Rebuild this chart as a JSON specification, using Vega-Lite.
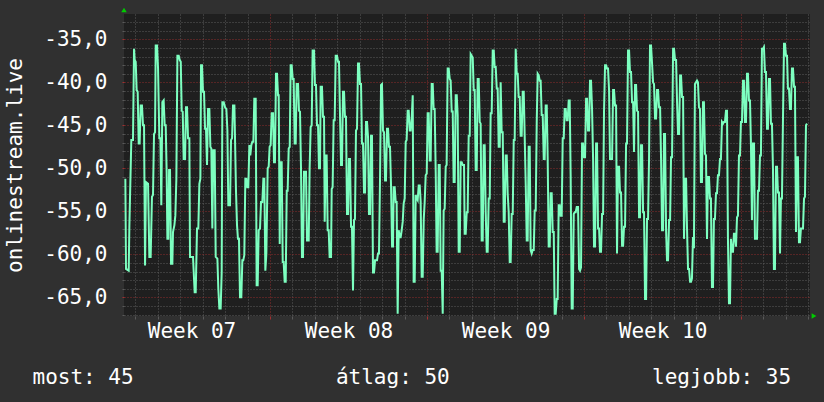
{
  "$schema": "https://vega.github.io/schema/vega-lite/v6.json",
  "width": 686,
  "height": 302,
  "autosize": {"type": "none"},
  "padding": {"left": 124, "top": 14, "right": 14, "bottom": 86},
  "background": "#303030",
  "config": {
    "view": {"fill": "#1f1f1f", "stroke": null},
    "font": "DejaVu Sans Mono",
    "axis": {"labelFont": "DejaVu Sans Mono", "titleFont": "DejaVu Sans Mono", "labelColor": "#ffffff", "titleColor": "#ffffff", "titleFontWeight": "normal", "domain": false, "labelOverlap": false, "labelFlush": false, "labelBound": false}
  },
  "resolve": {"axis": {"x": "independent", "y": "independent"}},
  "layer": [
    {
      "data": {"values": [
        {"h":13.2,"v":-51.2},{"h":13.9,"v":-61.7},{"h":16.8,"v":-61.9},{"h":17.5,"v":-56.8},{"h":19.6,"v":-46.7},{"h":21.4,"v":-46.7},{"h":22.5,"v":-36.1},{"h":23.2,"v":-37.4},{"h":24.3,"v":-37.6},{"h":25.3,"v":-40.9},{"h":26.4,"v":-41.1},{"h":27.5,"v":-47.1},{"h":28.5,"v":-47.1},{"h":29.6,"v":-42.7},{"h":31.0,"v":-42.7},{"h":32.1,"v":-45.0},{"h":33.2,"v":-45.0},{"h":34.3,"v":-61.3},{"h":35.3,"v":-51.6},{"h":37.5,"v":-51.8},{"h":38.9,"v":-60.3},{"h":40.3,"v":-60.3},{"h":41.7,"v":-53.3},{"h":42.8,"v":-53.1},{"h":43.9,"v":-46.0},{"h":45.0,"v":-45.8},{"h":45.7,"v":-35.7},{"h":47.1,"v":-35.7},{"h":48.2,"v":-38.4},{"h":49.6,"v":-46.5},{"h":50.7,"v":-46.5},{"h":51.7,"v":-54.3},{"h":52.8,"v":-42.3},{"h":54.2,"v":-42.1},{"h":55.3,"v":-45.0},{"h":56.4,"v":-45.0},{"h":57.4,"v":-50.4},{"h":58.2,"v":-58.2},{"h":59.2,"v":-58.2},{"h":60.0,"v":-50.2},{"h":61.0,"v":-50.2},{"h":62.1,"v":-61.1},{"h":63.5,"v":-61.1},{"h":64.2,"v":-57.4},{"h":65.7,"v":-56.6},{"h":66.7,"v":-55.5},{"h":67.8,"v":-51.2},{"h":68.9,"v":-36.9},{"h":70.3,"v":-36.9},{"h":71.4,"v":-37.4},{"h":72.5,"v":-37.6},{"h":73.5,"v":-43.3},{"h":74.6,"v":-43.4},{"h":75.6,"v":-48.9},{"h":77.1,"v":-48.9},{"h":78.1,"v":-42.9},{"h":79.2,"v":-42.9},{"h":80.3,"v":-46.5},{"h":81.7,"v":-46.5},{"h":82.4,"v":-60.3},{"h":85.6,"v":-60.3},{"h":87.4,"v":-64.4},{"h":88.5,"v":-64.4},{"h":89.9,"v":-57.0},{"h":91.3,"v":-57.0},{"h":92.4,"v":-51.8},{"h":93.5,"v":-51.2},{"h":94.2,"v":-38.0},{"h":95.2,"v":-38.0},{"h":96.3,"v":-41.1},{"h":97.4,"v":-41.1},{"h":98.5,"v":-45.4},{"h":99.5,"v":-45.4},{"h":100.6,"v":-49.6},{"h":101.7,"v":-43.1},{"h":103.1,"v":-43.1},{"h":104.2,"v":-47.5},{"h":105.2,"v":-47.7},{"h":106.3,"v":-57.0},{"h":107.4,"v":-47.9},{"h":108.8,"v":-47.9},{"h":109.9,"v":-60.3},{"h":111.7,"v":-60.5},{"h":112.7,"v":-64.0},{"h":113.8,"v":-66.3},{"h":115.2,"v":-66.3},{"h":116.3,"v":-62.1},{"h":117.0,"v":-42.3},{"h":118.5,"v":-42.3},{"h":119.9,"v":-42.9},{"h":121.3,"v":-43.1},{"h":122.4,"v":-45.6},{"h":123.4,"v":-54.3},{"h":125.2,"v":-54.3},{"h":126.3,"v":-46.7},{"h":127.4,"v":-46.5},{"h":128.4,"v":-42.7},{"h":129.9,"v":-42.7},
        {"h":131.6,"v":-52.6},{"h":132.7,"v":-56.6},{"h":133.7,"v":-58.2},{"h":134.8,"v":-58.2},{"h":135.9,"v":-65.0},{"h":137.3,"v":-65.0},{"h":138.4,"v":-60.7},{"h":139.4,"v":-60.7},{"h":140.5,"v":-60.1},{"h":141.6,"v":-51.2},{"h":142.7,"v":-51.2},{"h":143.7,"v":-52.2},{"h":144.8,"v":-52.2},{"h":145.9,"v":-47.3},{"h":146.9,"v":-48.5},{"h":148.0,"v":-47.3},{"h":149.1,"v":-46.9},{"h":150.2,"v":-46.9},{"h":151.2,"v":-41.9},{"h":152.7,"v":-41.9},{"h":153.7,"v":-63.6},{"h":154.8,"v":-63.6},{"h":155.9,"v":-57.2},{"h":157.3,"v":-57.0},{"h":158.4,"v":-53.9},{"h":159.8,"v":-53.9},{"h":160.9,"v":-51.2},{"h":161.9,"v":-51.2},{"h":163.0,"v":-61.9},{"h":164.1,"v":-59.9},{"h":165.5,"v":-50.0},{"h":166.6,"v":-49.8},{"h":167.6,"v":-47.5},{"h":168.7,"v":-47.3},{"h":169.8,"v":-43.6},{"h":171.2,"v":-43.6},{"h":172.3,"v":-49.3},{"h":173.3,"v":-49.3},{"h":174.4,"v":-39.0},{"h":175.5,"v":-39.0},{"h":176.6,"v":-41.5},{"h":177.3,"v":-41.5},{"h":178.4,"v":-58.8},{"h":179.1,"v":-49.3},{"h":180.5,"v":-49.3},{"h":181.6,"v":-60.9},{"h":182.6,"v":-60.9},{"h":183.7,"v":-63.2},{"h":184.8,"v":-63.2},{"h":185.9,"v":-52.6},{"h":186.9,"v":-52.6},{"h":188.0,"v":-47.7},{"h":189.1,"v":-47.5},{"h":190.1,"v":-38.0},{"h":191.2,"v":-38.0},{"h":192.3,"v":-39.6},{"h":193.3,"v":-39.6},{"h":194.4,"v":-47.1},{"h":195.5,"v":-47.1},{"h":196.5,"v":-40.2},{"h":198.0,"v":-40.2},{"h":199.0,"v":-43.3},{"h":200.1,"v":-43.4},{"h":201.2,"v":-50.2},{"h":202.2,"v":-60.3},{"h":203.3,"v":-60.3},{"h":204.4,"v":-50.4},{"h":206.5,"v":-50.4},{"h":207.6,"v":-58.4},{"h":209.4,"v":-58.4},{"h":210.4,"v":-50.0},{"h":211.5,"v":-45.2},{"h":212.6,"v":-45.0},{"h":213.6,"v":-36.3},{"h":215.1,"v":-36.3},{"h":216.1,"v":-40.3},{"h":217.2,"v":-40.3},{"h":218.3,"v":-45.0},{"h":219.4,"v":-45.0},{"h":220.4,"v":-50.0},{"h":221.5,"v":-50.0},{"h":222.2,"v":-40.5},{"h":223.6,"v":-40.5},{"h":224.7,"v":-44.0},{"h":225.8,"v":-44.0},{"h":226.5,"v":-56.2},{"h":227.6,"v":-48.5},{"h":228.6,"v":-48.5},{"h":229.7,"v":-57.2},{"h":230.8,"v":-57.2},{"h":231.8,"v":-60.3},{"h":233.3,"v":-60.3},{"h":234.0,"v":-52.4},{"h":235.0,"v":-52.2},{"h":236.1,"v":-44.4},{"h":237.2,"v":-44.4},{"h":238.3,"v":-36.9},{"h":239.7,"v":-36.9},{"h":240.8,"v":-37.6},{"h":241.8,"v":-37.6},{"h":242.9,"v":-43.8},{"h":244.0,"v":-49.6},{"h":245.0,"v":-49.6},{"h":246.1,"v":-41.1},{"h":247.2,"v":-41.1},{"h":248.2,"v":-44.0},{"h":249.3,"v":-44.0},{"h":250.4,"v":-55.3},{"h":251.5,"v":-55.3},{"h":252.5,"v":-48.9},
        {"h":253.6,"v":-48.9},{"h":254.7,"v":-56.8},{"h":255.7,"v":-56.8},{"h":256.8,"v":-64.2},{"h":257.9,"v":-56.0},{"h":258.9,"v":-55.9},{"h":260.0,"v":-45.6},{"h":261.1,"v":-45.4},{"h":262.2,"v":-37.8},{"h":263.2,"v":-37.8},{"h":264.3,"v":-40.2},{"h":265.4,"v":-40.2},{"h":266.4,"v":-47.1},{"h":267.5,"v":-47.1},{"h":268.6,"v":-52.8},{"h":269.7,"v":-52.8},{"h":270.7,"v":-44.6},{"h":271.8,"v":-44.6},{"h":272.9,"v":-46.4},{"h":273.9,"v":-55.3},{"h":275.0,"v":-55.3},{"h":276.1,"v":-46.2},{"h":277.1,"v":-46.2},{"h":278.2,"v":-62.1},{"h":279.3,"v":-62.1},{"h":280.4,"v":-60.7},{"h":282.5,"v":-60.7},{"h":283.6,"v":-59.9},{"h":284.6,"v":-59.9},{"h":285.7,"v":-51.4},{"h":286.8,"v":-40.3},{"h":287.8,"v":-40.2},{"h":288.9,"v":-45.6},{"h":290.0,"v":-45.8},{"h":291.1,"v":-51.4},{"h":292.1,"v":-51.4},{"h":293.2,"v":-45.4},{"h":294.3,"v":-45.4},{"h":295.3,"v":-47.5},{"h":296.4,"v":-47.5},{"h":297.5,"v":-52.0},{"h":298.6,"v":-59.1},{"h":299.6,"v":-59.1},{"h":300.3,"v":-52.2},{"h":301.4,"v":-52.2},{"h":302.5,"v":-53.9},{"h":303.5,"v":-53.9},{"h":304.6,"v":-66.9},{"h":305.7,"v":-57.2},{"h":306.8,"v":-58.0},{"h":307.8,"v":-58.0},{"h":308.9,"v":-57.2},{"h":310.0,"v":-56.2},{"h":311.0,"v":-54.1},{"h":312.1,"v":-53.5},{"h":313.2,"v":-46.9},{"h":314.2,"v":-46.7},{"h":315.3,"v":-43.3},{"h":316.4,"v":-43.3},{"h":317.5,"v":-45.6},{"h":318.5,"v":-45.6},{"h":319.6,"v":-44.2},{"h":320.7,"v":-41.5},{"h":321.7,"v":-63.2},{"h":322.8,"v":-63.2},{"h":323.9,"v":-53.1},{"h":325.0,"v":-53.5},{"h":326.0,"v":-53.7},{"h":327.1,"v":-52.0},{"h":328.2,"v":-52.0},{"h":329.2,"v":-53.9},{"h":330.3,"v":-62.6},{"h":331.4,"v":-62.6},{"h":332.5,"v":-55.9},{"h":333.5,"v":-53.9},{"h":334.6,"v":-50.8},{"h":335.7,"v":-50.6},{"h":336.7,"v":-43.6},{"h":337.8,"v":-43.6},{"h":338.9,"v":-49.1},{"h":339.9,"v":-49.1},{"h":341.0,"v":-40.2},{"h":342.1,"v":-40.2},{"h":343.1,"v":-43.1},{"h":344.2,"v":-43.1},{"h":345.3,"v":-50.4},{"h":346.3,"v":-59.7},{"h":347.4,"v":-59.7},{"h":348.5,"v":-49.6},{"h":349.6,"v":-49.6},{"h":350.6,"v":-61.9},{"h":351.7,"v":-61.9},{"h":352.8,"v":-66.9},{"h":353.8,"v":-54.9},{"h":354.9,"v":-54.7},{"h":356.0,"v":-49.8},{"h":357.0,"v":-49.6},{"h":358.1,"v":-38.4},{"h":359.2,"v":-38.4},{"h":360.3,"v":-39.6},{"h":361.3,"v":-39.8},{"h":362.4,"v":-43.4},{"h":363.5,"v":-43.4},{"h":364.5,"v":-51.6},{"h":365.6,"v":-51.6},{"h":366.7,"v":-41.5},{"h":367.8,"v":-41.5},{"h":368.8,"v":-43.8},{"h":369.9,"v":-59.7},{"h":371.0,"v":-59.7},{"h":372.0,"v":-49.3},{"h":373.1,"v":-49.3},{"h":374.2,"v":-49.6},
        {"h":375.6,"v":-49.6},{"h":376.3,"v":-57.6},{"h":377.4,"v":-57.6},{"h":378.5,"v":-55.1},{"h":379.5,"v":-55.1},{"h":380.6,"v":-46.2},{"h":381.7,"v":-46.2},{"h":382.7,"v":-36.7},{"h":383.8,"v":-36.9},{"h":384.9,"v":-37.1},{"h":386.0,"v":-40.9},{"h":387.0,"v":-40.9},{"h":388.1,"v":-50.2},{"h":389.2,"v":-50.2},{"h":390.2,"v":-39.6},{"h":391.3,"v":-39.6},{"h":392.4,"v":-44.6},{"h":393.4,"v":-44.8},{"h":394.5,"v":-58.4},{"h":395.6,"v":-58.4},{"h":396.6,"v":-47.3},{"h":397.7,"v":-47.3},{"h":398.8,"v":-55.1},{"h":399.9,"v":-59.7},{"h":400.9,"v":-59.7},{"h":402.0,"v":-53.5},{"h":403.1,"v":-53.5},{"h":404.1,"v":-43.6},{"h":405.2,"v":-43.6},{"h":406.3,"v":-36.3},{"h":407.4,"v":-36.3},{"h":408.4,"v":-38.2},{"h":409.5,"v":-38.2},{"h":410.6,"v":-40.7},{"h":411.6,"v":-40.7},{"h":412.7,"v":-47.5},{"h":413.8,"v":-47.5},{"h":414.8,"v":-40.0},{"h":415.9,"v":-45.8},{"h":417.0,"v":-45.8},{"h":418.1,"v":-56.2},{"h":419.1,"v":-56.2},{"h":420.2,"v":-48.5},{"h":421.3,"v":-48.5},{"h":422.3,"v":-52.9},{"h":423.4,"v":-55.1},{"h":424.5,"v":-60.9},{"h":425.5,"v":-60.9},{"h":426.6,"v":-55.3},{"h":427.7,"v":-55.3},{"h":428.8,"v":-46.7},{"h":429.8,"v":-46.7},{"h":430.9,"v":-36.1},{"h":432.0,"v":-39.0},{"h":433.0,"v":-39.0},{"h":434.1,"v":-41.7},{"h":435.2,"v":-41.7},{"h":436.2,"v":-46.2},{"h":437.3,"v":-46.2},{"h":438.4,"v":-41.1},{"h":439.5,"v":-41.1},{"h":440.5,"v":-46.2},{"h":441.6,"v":-51.8},{"h":442.7,"v":-58.4},{"h":443.7,"v":-58.4},{"h":444.8,"v":-47.5},{"h":445.9,"v":-47.5},{"h":446.9,"v":-59.5},{"h":448.0,"v":-59.9},{"h":449.1,"v":-59.5},{"h":450.2,"v":-59.5},{"h":451.2,"v":-54.9},{"h":452.3,"v":-54.9},{"h":453.4,"v":-44.6},{"h":454.4,"v":-39.0},{"h":455.5,"v":-39.2},{"h":456.6,"v":-39.8},{"h":457.6,"v":-39.8},{"h":458.7,"v":-43.8},{"h":459.8,"v":-43.8},{"h":460.9,"v":-48.9},{"h":461.9,"v":-48.9},{"h":463.0,"v":-42.7},{"h":464.1,"v":-42.7},{"h":465.1,"v":-48.7},{"h":466.2,"v":-59.1},{"h":467.3,"v":-59.1},{"h":468.3,"v":-52.9},{"h":469.4,"v":-52.9},{"h":470.5,"v":-57.4},{"h":471.6,"v":-57.4},{"h":472.6,"v":-66.9},{"h":473.7,"v":-66.9},{"h":474.8,"v":-65.2},{"h":475.8,"v":-65.2},{"h":476.9,"v":-54.3},{"h":478.0,"v":-54.3},{"h":479.0,"v":-55.5},{"h":480.1,"v":-55.5},{"h":481.2,"v":-46.5},{"h":482.3,"v":-46.5},{"h":483.3,"v":-43.1},{"h":484.4,"v":-43.1},{"h":485.5,"v":-44.4},{"h":486.5,"v":-44.4},{"h":487.6,"v":-42.1},{"h":488.7,"v":-42.1},{"h":489.7,"v":-50.8},{"h":490.8,"v":-66.3},{"h":491.9,"v":-66.3},{"h":493.0,"v":-55.3},{"h":494.0,"v":-55.1},{"h":495.1,"v":-55.1},{"h":496.2,"v":-54.5},
        {"h":497.6,"v":-54.5},{"h":498.7,"v":-61.7},{"h":499.7,"v":-61.9},{"h":500.8,"v":-61.5},{"h":501.9,"v":-47.1},{"h":502.9,"v":-47.1},{"h":504.0,"v":-48.7},{"h":505.1,"v":-48.7},{"h":506.2,"v":-41.9},{"h":507.2,"v":-41.9},{"h":508.3,"v":-45.6},{"h":509.4,"v":-45.6},{"h":510.4,"v":-39.8},{"h":511.5,"v":-39.8},{"h":512.6,"v":-43.1},{"h":513.7,"v":-48.9},{"h":514.7,"v":-59.1},{"h":515.8,"v":-59.1},{"h":516.9,"v":-47.1},{"h":517.9,"v":-47.1},{"h":519.0,"v":-57.0},{"h":520.1,"v":-57.0},{"h":521.1,"v":-59.7},{"h":522.2,"v":-59.7},{"h":523.3,"v":-55.3},{"h":524.4,"v":-55.3},{"h":525.4,"v":-43.4},{"h":526.5,"v":-38.0},{"h":527.6,"v":-38.0},{"h":528.6,"v":-38.4},{"h":529.7,"v":-38.4},{"h":530.8,"v":-40.9},{"h":531.8,"v":-48.9},{"h":534.0,"v":-48.9},{"h":535.1,"v":-40.9},{"h":536.1,"v":-40.9},{"h":537.2,"v":-42.7},{"h":538.3,"v":-42.7},{"h":539.3,"v":-59.9},{"h":540.4,"v":-49.8},{"h":541.5,"v":-49.8},{"h":542.5,"v":-52.8},{"h":543.6,"v":-52.8},{"h":544.7,"v":-59.0},{"h":545.8,"v":-59.0},{"h":546.8,"v":-56.8},{"h":547.9,"v":-56.8},{"h":549.0,"v":-47.1},{"h":550.0,"v":-47.1},{"h":551.1,"v":-36.3},{"h":552.2,"v":-36.3},{"h":553.2,"v":-38.8},{"h":554.3,"v":-38.8},{"h":555.4,"v":-42.3},{"h":556.5,"v":-42.3},{"h":557.5,"v":-48.1},{"h":558.6,"v":-40.3},{"h":559.7,"v":-40.3},{"h":560.7,"v":-43.3},{"h":561.8,"v":-43.4},{"h":562.9,"v":-55.7},{"h":563.9,"v":-55.7},{"h":565.0,"v":-47.3},{"h":566.1,"v":-47.3},{"h":567.2,"v":-55.1},{"h":568.2,"v":-55.1},{"h":569.3,"v":-65.2},{"h":570.4,"v":-65.2},{"h":571.4,"v":-55.9},{"h":572.5,"v":-55.9},{"h":573.6,"v":-48.7},{"h":574.6,"v":-35.7},{"h":575.7,"v":-35.7},{"h":576.8,"v":-37.8},{"h":577.9,"v":-40.0},{"h":578.9,"v":-40.2},{"h":580.0,"v":-44.2},{"h":581.1,"v":-44.2},{"h":582.1,"v":-40.9},{"h":583.2,"v":-40.9},{"h":584.3,"v":-42.9},{"h":585.4,"v":-42.9},{"h":586.4,"v":-48.7},{"h":587.5,"v":-57.2},{"h":588.6,"v":-57.2},{"h":589.6,"v":-46.0},{"h":590.7,"v":-46.0},{"h":591.8,"v":-57.2},{"h":592.8,"v":-60.7},{"h":593.9,"v":-60.7},{"h":595.0,"v":-56.0},{"h":596.1,"v":-56.0},{"h":597.1,"v":-48.7},{"h":598.2,"v":-48.7},{"h":599.3,"v":-36.1},{"h":600.3,"v":-36.1},{"h":601.4,"v":-37.4},{"h":602.5,"v":-37.4},{"h":603.5,"v":-42.1},{"h":604.6,"v":-46.0},{"h":605.7,"v":-46.0},{"h":606.8,"v":-39.2},{"h":607.8,"v":-39.2},{"h":608.9,"v":-41.7},{"h":610.0,"v":-41.7},{"h":611.0,"v":-58.2},{"h":612.1,"v":-51.2},{"h":613.2,"v":-51.2},{"h":614.2,"v":-57.0},{"h":615.3,"v":-61.7},{"h":616.4,"v":-61.7},{"h":617.5,"v":-63.2},{"h":618.5,"v":-63.2},
        {"h":619.5,"v":-62.8},{"h":620.6,"v":-58.0},{"h":621.6,"v":-59.3},{"h":622.7,"v":-40.2},{"h":623.8,"v":-40.0},{"h":624.9,"v":-39.8},{"h":625.9,"v":-40.0},{"h":627.0,"v":-42.9},{"h":628.1,"v":-43.1},{"h":629.1,"v":-51.6},{"h":630.2,"v":-51.6},{"h":631.3,"v":-42.3},{"h":632.3,"v":-42.3},{"h":633.4,"v":-48.3},{"h":634.5,"v":-48.5},{"h":635.6,"v":-58.2},{"h":636.6,"v":-51.0},{"h":637.7,"v":-51.0},{"h":638.8,"v":-53.5},{"h":639.8,"v":-53.5},{"h":640.9,"v":-63.8},{"h":642.0,"v":-63.8},{"h":643.0,"v":-55.9},{"h":644.1,"v":-55.9},{"h":645.2,"v":-52.9},{"h":646.3,"v":-52.9},{"h":647.3,"v":-50.8},{"h":648.4,"v":-50.8},{"h":649.5,"v":-48.9},{"h":650.5,"v":-48.9},{"h":651.6,"v":-44.6},{"h":652.7,"v":-44.8},{"h":653.7,"v":-44.6},{"h":654.8,"v":-44.6},{"h":655.9,"v":-43.3},{"h":657.0,"v":-43.3},{"h":658.0,"v":-58.2},{"h":659.1,"v":-65.7},{"h":660.2,"v":-65.7},{"h":661.2,"v":-58.2},{"h":662.3,"v":-59.7},{"h":663.4,"v":-59.7},{"h":664.4,"v":-57.6},{"h":665.5,"v":-57.6},{"h":666.6,"v":-59.1},{"h":667.7,"v":-55.7},{"h":668.7,"v":-55.5},{"h":669.8,"v":-48.5},{"h":670.9,"v":-48.5},{"h":671.9,"v":-44.6},{"h":673.0,"v":-44.6},{"h":674.1,"v":-39.8},{"h":675.1,"v":-39.8},{"h":676.2,"v":-44.6},{"h":677.3,"v":-44.6},{"h":678.4,"v":-39.0},{"h":679.4,"v":-39.0},{"h":680.5,"v":-42.1},{"h":681.6,"v":-42.1},{"h":682.6,"v":-47.1},{"h":683.7,"v":-56.0},{"h":684.8,"v":-47.1},{"h":685.9,"v":-47.1},{"h":686.9,"v":-58.2},{"h":689.1,"v":-58.2},{"h":690.1,"v":-52.6},{"h":691.2,"v":-52.6},{"h":692.3,"v":-48.5},{"h":693.3,"v":-48.5},{"h":694.4,"v":-36.1},{"h":695.5,"v":-36.1},{"h":696.5,"v":-35.9},{"h":697.6,"v":-38.8},{"h":698.7,"v":-38.8},{"h":699.8,"v":-45.4},{"h":700.8,"v":-45.4},{"h":701.9,"v":-39.6},{"h":703.0,"v":-39.6},{"h":704.0,"v":-44.8},{"h":705.1,"v":-44.8},{"h":706.2,"v":-50.2},{"h":707.2,"v":-61.7},{"h":708.3,"v":-61.7},{"h":709.4,"v":-49.8},{"h":710.5,"v":-49.8},{"h":711.5,"v":-52.8},{"h":712.6,"v":-52.8},{"h":713.7,"v":-59.9},{"h":714.7,"v":-53.5},{"h":715.8,"v":-53.5},{"h":716.9,"v":-44.2},{"h":718.0,"v":-35.5},{"h":719.0,"v":-35.5},{"h":720.1,"v":-36.9},{"h":721.2,"v":-36.9},{"h":722.2,"v":-40.7},{"h":723.3,"v":-40.7},{"h":724.4,"v":-43.1},{"h":725.4,"v":-43.1},{"h":726.5,"v":-38.4},{"h":727.6,"v":-38.4},{"h":728.7,"v":-40.5},{"h":729.7,"v":-40.5},{"h":730.8,"v":-57.4},{"h":731.9,"v":-48.7},{"h":732.9,"v":-48.7},{"h":734.0,"v":-58.6},{"h":735.1,"v":-58.6},{"h":736.1,"v":-57.0},{"h":738.3,"v":-57.0},{"h":739.4,"v":-53.5},{"h":740.4,"v":-53.3},{"h":741.5,"v":-45.0},{"h":742.6,"v":-44.8}
      ]},
      "mark": {"type": "line", "color": "#7dffc0", "strokeWidth": 2, "clip": true},
      "encoding": {
        "x": {
          "field": "h", "type": "quantitative",
          "scale": {"domain": [11.77, 745.8], "nice": false, "zero": false},
          "axis": {
            "orient": "bottom",
            "values": [24,48,72,96,120,144,192,216,240,264,288,312,360,384,408,432,456,480,528,552,576,600,624,648,696,720,744],
            "labels": false, "title": null,
            "ticks": true, "tickSize": 3, "tickColor": "#5a5a5a",
            "grid": true, "gridColor": "#5c5c5c", "gridDash": [1, 2], "gridWidth": 1
          }
        },
        "y": {
          "field": "v", "type": "quantitative",
          "scale": {"domain": [-67.17, -32.05], "nice": false, "zero": false},
          "axis": {
            "orient": "left",
            "values": [-67,-66,-64,-63,-62,-61,-59,-58,-57,-56,-54,-53,-52,-51,-49,-48,-47,-46,-44,-43,-42,-41,-39,-38,-37,-36,-34,-33],
            "labels": false, "title": null,
            "ticks": true, "tickSize": 2, "tickColor": "#5a5a5a",
            "grid": true, "gridColor": "#5c5c5c", "gridDash": [1, 2], "gridWidth": 1
          }
        }
      }
    },
    {
      "data": {"values": [{"corner": "top"}]},
      "mark": {"type": "point", "shape": "triangle-up", "filled": true, "color": "#00cc00", "size": 30, "yOffset": -4, "opacity": 1},
      "encoding": {
        "x": {
          "datum": 11.77, "type": "quantitative",
          "axis": {
            "orient": "bottom",
            "values": [168, 336, 504, 672],
            "labels": false, "title": null,
            "ticks": true, "tickSize": 3, "tickColor": "#a03030",
            "grid": true, "gridColor": "#8e2c2c", "gridDash": [1, 2], "gridWidth": 1
          }
        },
        "y": {
          "datum": -32.05, "type": "quantitative",
          "axis": {
            "orient": "left",
            "values": [-65, -60, -55, -50, -45, -40, -35],
            "labelExpr": "'-' + abs(datum.value) + ',0'",
            "labelFontSize": 21, "labelPadding": 15,
            "ticks": true, "tickSize": 2, "tickColor": "#a03030",
            "grid": true, "gridColor": "#8e2c2c", "gridDash": [1, 2], "gridWidth": 1,
            "title": "onlinestream.live", "titleFontSize": 21,
            "titleAngle": -90, "titleAlign": "center", "titleBaseline": "alphabetic",
            "titleX": -103, "titleY": 151
          }
        }
      }
    },
    {
      "data": {"values": [{"corner": "right"}]},
      "mark": {"type": "point", "shape": "triangle-right", "filled": true, "color": "#00cc00", "size": 30, "xOffset": 4, "opacity": 1},
      "encoding": {
        "x": {
          "datum": 745.8, "type": "quantitative",
          "axis": {
            "orient": "bottom",
            "values": [84, 252, 420, 588],
            "labelExpr": "'Week ' + ((7 + floor(datum.value / 168)) < 10 ? '0' : '') + (7 + floor(datum.value / 168))",
            "labelFontSize": 21, "labelBaseline": "alphabetic", "labelPadding": 21,
            "ticks": false, "grid": false,
            "title": "most: 45\u00a0\u00a0\u00a0\u00a0\u00a0\u00a0\u00a0\u00a0\u00a0\u00a0\u00a0\u00a0\u00a0\u00a0\u00a0\u00a0átlag: 50\u00a0\u00a0\u00a0\u00a0\u00a0\u00a0\u00a0\u00a0\u00a0\u00a0\u00a0\u00a0\u00a0\u00a0\u00a0\u00a0legjobb: 35",
            "titleFontSize": 21,
            "titleAnchor": "start", "titleAlign": "left", "titleBaseline": "alphabetic",
            "titleX": -92, "titleY": 67
          }
        },
        "y": {"datum": -67.17, "type": "quantitative", "axis": null}
      }
    }
  ]
}
